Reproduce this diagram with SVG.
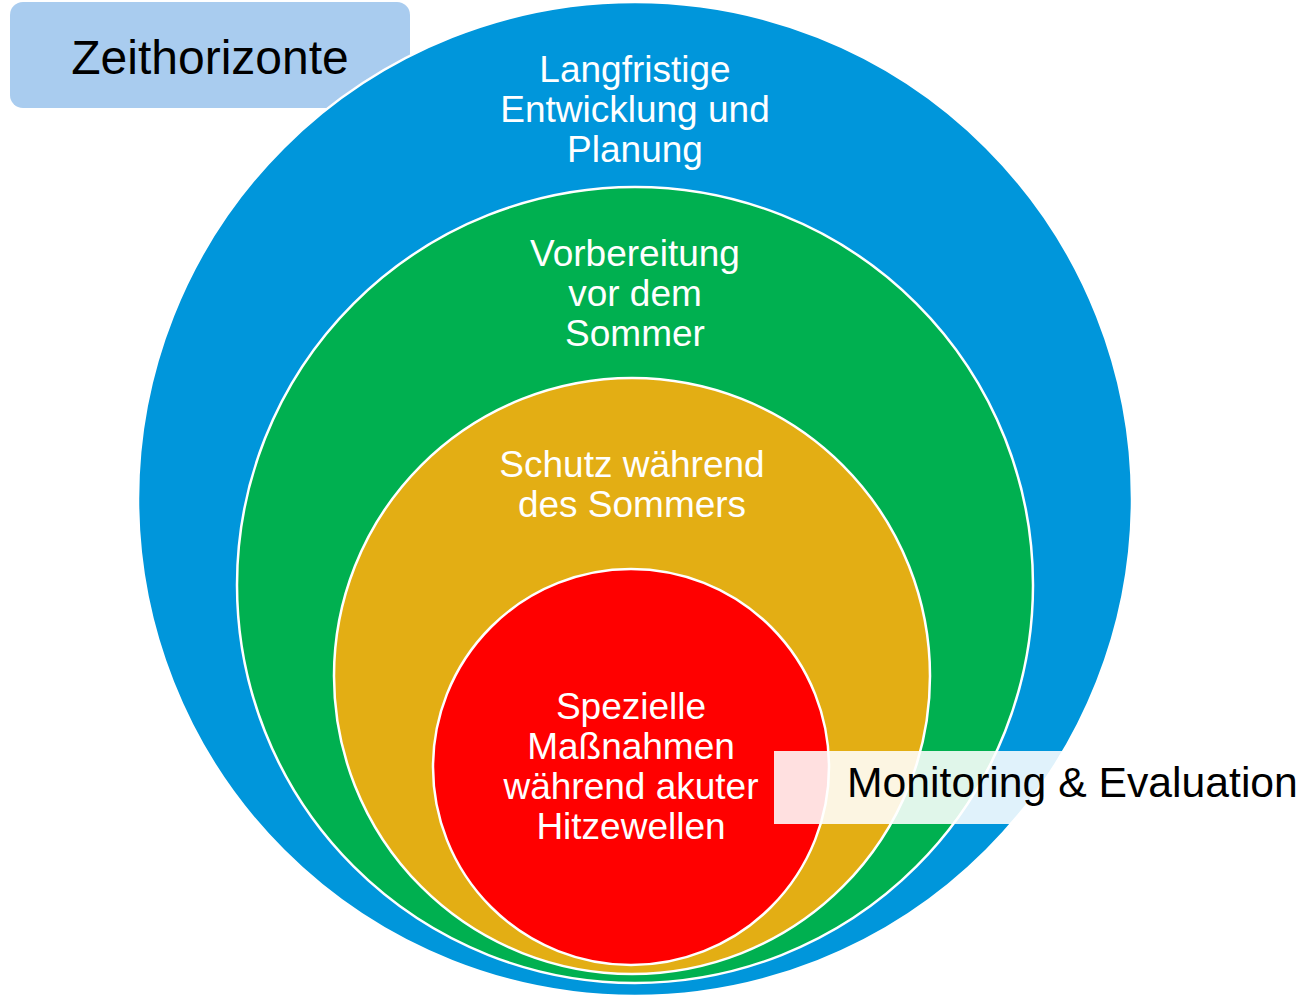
<svg xmlns="http://www.w3.org/2000/svg" width="1304" height="996" viewBox="0 0 1304 996">
<style>
.ring{stroke:#FFFFFF;stroke-width:2.5}
.lbl{font-family:"Liberation Sans",Arial,sans-serif;font-size:37px;fill:#FFFFFF;text-anchor:middle}
.dark{font-family:"Liberation Sans",Arial,sans-serif;fill:#000000}
</style>
<rect width="1304" height="996" fill="#FFFFFF"/>
<g id="title">
<rect x="10" y="2" width="400" height="106" rx="13" fill="#A9CCEF"/>
<text class="dark" x="210" y="74" font-size="48" text-anchor="middle">Zeithorizonte</text>
</g>
<g id="long-term">
<circle class="ring" cx="635" cy="499" r="497" fill="#0096DB"/>
<text class="lbl" x="635" y="82">Langfristige</text>
<text class="lbl" x="635" y="122">Entwicklung und</text>
<text class="lbl" x="635" y="162">Planung</text>
</g>
<g id="preparation">
<circle class="ring" cx="635" cy="585" r="398" fill="#00B050"/>
<text class="lbl" x="635" y="266">Vorbereitung</text>
<text class="lbl" x="635" y="306">vor dem</text>
<text class="lbl" x="635" y="346">Sommer</text>
</g>
<g id="summer">
<circle class="ring" cx="632" cy="676" r="298" fill="#E3AE14"/>
<text class="lbl" x="632" y="477">Schutz während</text>
<text class="lbl" x="632" y="517">des Sommers</text>
</g>
<g id="heatwave">
<circle class="ring" cx="631" cy="767" r="198" fill="#FF0000"/>
<text class="lbl" x="631" y="719">Spezielle</text>
<text class="lbl" x="631" y="759">Maßnahmen</text>
<text class="lbl" x="631" y="799">während akuter</text>
<text class="lbl" x="631" y="839">Hitzewellen</text>
</g>
<g id="monitoring">
<rect x="774" y="751" width="320" height="73" fill="#FFFFFF" fill-opacity="0.88"/>
<text class="dark" x="847" y="797" font-size="42.7">Monitoring &amp; Evaluation</text>
</g>
<g id="connectors"/>
</svg>
